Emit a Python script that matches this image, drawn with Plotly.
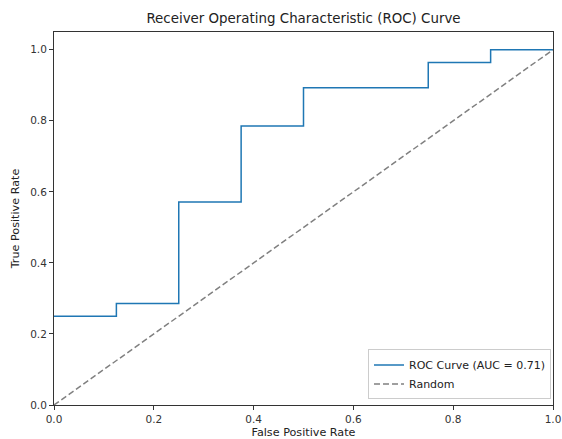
import plotly.graph_objects as go

fpr = [0.0, 0.125, 0.125, 0.25, 0.25, 0.375, 0.375, 0.5, 0.5, 0.75, 0.75, 0.875, 0.875, 1.0]
tpr = [0.25, 0.25, 0.2857, 0.2857, 0.5714, 0.5714, 0.7857, 0.7857, 0.8929, 0.8929, 0.9643, 0.9643, 1.0, 1.0]
rand_x = [0.0, 1.0]
rand_y = [0.0, 1.0]
ticks = [0.0, 0.2, 0.4, 0.6, 0.8, 1.0]
tick_labels = ["0.0", "0.2", "0.4", "0.6", "0.8", "1.0"]

fig = go.Figure()
fig.add_trace(go.Scatter(x=fpr, y=tpr, mode="lines", name="ROC Curve (AUC = 0.71)",
                         line=dict(color="#1f77b4", width=1.5)))
fig.add_trace(go.Scatter(x=rand_x, y=rand_y, mode="lines", name="Random",
                         line=dict(color="#808080", width=1.5, dash="6px,3px")))

axis_common = dict(showgrid=False, zeroline=False, showline=True, linecolor="#333333", linewidth=1,
                   mirror=True, ticks="outside", ticklen=4, tickwidth=1, tickcolor="#333333",
                   tickfont=dict(size=10.5, color="#333333"), tickvals=ticks, ticktext=tick_labels,
                   automargin=False, layer="above traces")

fig.update_layout(
    width=562, height=439,
    margin=dict(l=54, r=9, t=32, b=34, autoexpand=False),
    paper_bgcolor="white", plot_bgcolor="white",
    font=dict(family="DejaVu Sans", color="#222222"),
    title=dict(text="Receiver Operating Characteristic (ROC) Curve", x=(54 + 553) / 2 / 562, xanchor="center",
               y=1 - 18 / 439, yanchor="middle", font=dict(size=13.4, color="#222222")),
    xaxis=dict(range=[0, 1], title=dict(text="False Positive Rate", font=dict(size=11.2), standoff=4), **axis_common),
    yaxis=dict(range=[0, 1.05], title=dict(text="True Positive Rate", font=dict(size=11.2), standoff=8), **axis_common),
    legend=dict(x=0.996, y=0.015, xanchor="right", yanchor="bottom", bgcolor="rgba(255,255,255,0.8)",
                bordercolor="#cccccc", borderwidth=1, font=dict(size=11, color="#222222"),
                tracegroupgap=0, itemwidth=30),
    showlegend=True,
)

fig.write_html("out.html", config={"displayModeBar": False},
               post_script="document.body.style.margin='0';document.body.style.overflow='hidden';")
